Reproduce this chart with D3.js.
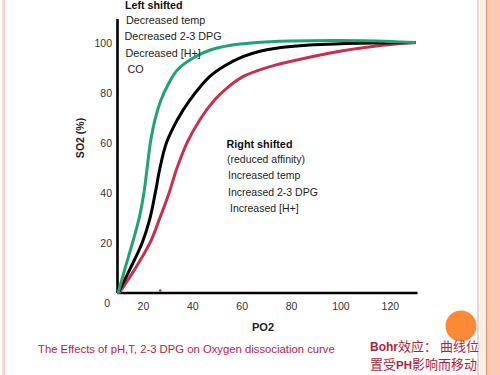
<!DOCTYPE html>
<html>
<head>
<meta charset="utf-8">
<script src="https://cdn.jsdelivr.net/npm/d3@7"></script>
<style>
  html, body { margin: 0; padding: 0; background: #fff; }
  svg { display: block; }
  text { font-family: "Liberation Sans", Arial, sans-serif; }
</style>
</head>
<body>
<div id="chart"></div>
<script>
// ---- data ----
const xTicks = [20, 40, 60, 80, 100, 120];
const yTicks = [0, 20, 40, 60, 80, 100];

const leftShifted = [ // green: PO2, SO2
  [10, 0], [12.7, 9.5], [15.8, 20], [18.5, 30], [20.4, 40], [21.7, 50], [23, 60],
  [24.8, 69], [27.2, 77], [30.2, 83.5], [34, 89.5], [40, 94], [47, 97.3], [55, 99.2],
  [65, 100.3], [80, 101], [100, 101.2], [115, 101], [125, 100.6], [130, 100.4]
];
const normalCurve = [ // black
  [10, 0], [14.8, 9.5], [19.7, 20], [22.9, 30], [25, 40], [26.9, 50], [29.5, 60],
  [34, 69.5], [39, 77.3], [47, 86.7], [53, 91], [60.5, 94.7], [67, 96.8],
  [74, 98.1], [87.5, 99.4], [100, 99.9], [115, 100.2], [130, 100.4]
];
const rightShifted = [ // red
  [10.5, 0], [16.8, 9.5], [22.9, 20], [26.9, 30], [30.6, 40], [33.8, 50], [37.8, 60],
  [43, 69.3], [49, 77.3], [54.5, 82.5], [60.5, 86.7], [67, 89.3], [74, 91.4],
  [87.5, 94.5], [101, 97.1], [114.6, 99], [123, 99.9], [130, 100.3]
];
const p50Marker = [27, 0.8];

const leftLabels = ["Decreased temp", "Decreased 2-3 DPG", "Decreased [H+]", "CO"];
const rightLabels = ["(reduced affinity)", "Increased temp", "Increased 2-3 DPG", "Increased [H+]"];

// ---- drawing ----
const W = 500, H = 375;
const svg = d3.select("#chart").append("svg").attr("width", W).attr("height", H);

// slide decoration
svg.append("rect").attr("x", 2).attr("y", 0).attr("width", 3).attr("height", H).attr("fill", "#f6d8d0");
svg.append("rect").attr("x", 477).attr("y", 0).attr("width", 2).attr("height", H).attr("fill", "#ead3cc");
svg.append("rect").attr("x", 480).attr("y", 0).attr("width", 6).attr("height", H).attr("fill", "#fdeee8");
svg.append("rect").attr("x", 486).attr("y", 0).attr("width", 1.5).attr("height", H).attr("fill", "#e8906a");
svg.append("rect").attr("x", 487.5).attr("y", 0).attr("width", 12.5).attr("height", H).attr("fill", "#fbc8b2");

const x = d3.scaleLinear().domain([9.5, 131]).range([117, 417]);
const y = d3.scaleLinear().domain([0, 110]).range([292.5, 18.6]);

// axes
const xAxis = svg.append("g").attr("transform", `translate(0,${y(0)})`)
  .call(d3.axisBottom(x).tickValues(xTicks).tickSize(0).tickPadding(10));
const yAxis = svg.append("g").attr("transform", `translate(${x(9.5)},0)`)
  .call(d3.axisLeft(y).tickValues(yTicks).tickSize(0).tickPadding(5));
[xAxis, yAxis].forEach(a => {
  a.select(".domain").attr("stroke", "#000").attr("stroke-width", 2.6);
  a.selectAll("text").attr("font-family", "Liberation Sans, Arial, sans-serif")
    .attr("font-size", 10.5).attr("fill", "#333");
});
yAxis.selectAll(".tick").filter(d => d === 0).select("text")
  .attr("dy", "1.3em").attr("x", -7);

// axis titles
svg.append("text").attr("transform", "translate(84,138) rotate(-90)")
  .attr("text-anchor", "middle").attr("font-size", 10.5).attr("font-weight", "bold")
  .attr("fill", "#222").text("SO2 (%)");
svg.append("text").attr("x", 263).attr("y", 331).attr("text-anchor", "middle")
  .attr("font-size", 11).attr("font-weight", "bold").attr("fill", "#222").text("PO2");

// curves
const line = d3.line().x(d => x(d[0])).y(d => y(d[1])).curve(d3.curveCatmullRom.alpha(0.5));
[[rightShifted, "#c8304e"], [normalCurve, "#000"], [leftShifted, "#1fa372"]].forEach(([data, c]) => {
  svg.append("path").datum(data).attr("d", line).attr("fill", "none")
    .attr("stroke", c).attr("stroke-width", 3).attr("stroke-linecap", "round")
    .attr("stroke-linejoin", "round");
});
svg.append("circle").attr("cx", x(p50Marker[0])).attr("cy", y(p50Marker[1]))
  .attr("r", 1.3).attr("fill", "#b0304a");

// annotations
svg.append("text").attr("x", 125).attr("y", 9).attr("font-size", 10.7)
  .attr("font-weight", "bold").attr("fill", "#111").text("Left shifted");
const leftY = [24, 40, 56.5, 73], leftX = [126, 124.5, 125.5, 127.5];
leftLabels.forEach((t, i) => svg.append("text").attr("x", leftX[i]).attr("y", leftY[i])
  .attr("font-size", 10.8).attr("fill", "#222").text(t));

svg.append("text").attr("x", 226.5).attr("y", 148).attr("font-size", 10.8)
  .attr("font-weight", "bold").attr("fill", "#111").text("Right shifted");
const rightY = [163, 179, 195.5, 212], rightX = [227, 228, 228, 230];
rightLabels.forEach((t, i) => svg.append("text").attr("x", rightX[i]).attr("y", rightY[i])
  .attr("font-size", 10.5).attr("fill", "#222").text(t));

// bottom captions
svg.append("text").attr("x", 38).attr("y", 352.5).attr("font-size", 11.3)
  .attr("fill", "#c0203e").text("The Effects of pH,T, 2-3 DPG on Oxygen dissociation curve");

svg.append("circle").attr("cx", 461).attr("cy", 326).attr("r", 15.5).attr("fill", "#fa8a38");

const cjk = "'Noto Sans CJK SC', sans-serif";
const b1 = svg.append("text").attr("x", 370).attr("y", 350.5).attr("font-size", 13).attr("fill", "#b51c3a");
b1.append("tspan").attr("font-weight", "bold").attr("font-size", 12).text("Bohr");
b1.append("tspan").attr("font-family", cjk).text("效应： 曲线位");
const b2 = svg.append("text").attr("x", 370).attr("y", 368.5).attr("font-size", 13).attr("fill", "#b51c3a");
b2.append("tspan").attr("font-family", cjk).text("置受");
b2.append("tspan").attr("font-weight", "bold").attr("font-size", 11.5).text("PH");
b2.append("tspan").attr("font-family", cjk).text("影响而移动");
</script>
</body>
</html>
